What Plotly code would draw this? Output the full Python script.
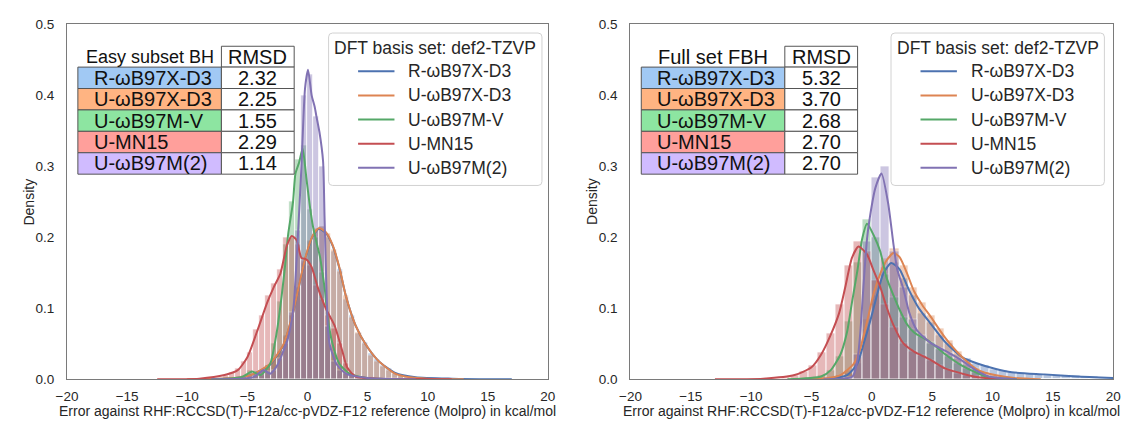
import plotly.graph_objects as go

# ---------------- data ----------------
methods = ["R-ωB97X-D3", "U-ωB97X-D3", "U-ωB97M-V", "U-MN15", "U-ωB97M(2)"]
line_colors = ["#4C72B0", "#DD8452", "#55A868", "#C44E52", "#8172B3"]
cell_colors = ["#A1C9F4", "#FFB482", "#8DE5A1", "#FF9F9B", "#D0BBFF"]

easy_title = "Easy subset BH"
full_title = "Full set FBH"
rmsd_header = "RMSD"
easy_rmsd = ["2.32", "2.25", "1.55", "2.29", "1.14"]
full_rmsd = ["5.32", "3.70", "2.68", "2.70", "2.70"]
legend_title = "DFT basis set: def2-TZVP"
x_title = "Error against RHF:RCCSD(T)-F12a/cc-pVDZ-F12 reference (Molpro) in kcal/mol"
y_title = "Density"
x_ticks = [-20, -15, -10, -5, 0, 5, 10, 15, 20]
y_ticks = [0.0, 0.1, 0.2, 0.3, 0.4, 0.5]

# --- KDE curves, easy subset (left panel)
easy_R_wB97XD3_x = [-9, -6, -4.7, -3.1, -2.0, -1.2, -0.6, -0.1, 0.45, 0.95, 1.55, 2.1, 2.65, 3.2, 4.0, 4.85, 5.9, 7.3, 9, 12, 17]
easy_R_wB97XD3_y = [0, 0.002, 0.006, 0.021, 0.048, 0.093, 0.139, 0.175, 0.202, 0.212, 0.206, 0.188, 0.157, 0.117, 0.076, 0.049, 0.026, 0.009, 0.003, 0.001, 0]
easy_U_wB97XD3_x = [-10, -6, -4.7, -3.1, -2.0, -1.2, -0.6, -0.1, 0.45, 0.95, 1.55, 2.1, 2.65, 3.2, 4.0, 4.85, 5.9, 7.3, 8.5, 10, 13]
easy_U_wB97XD3_y = [0, 0.002, 0.006, 0.022, 0.049, 0.094, 0.140, 0.176, 0.203, 0.213, 0.207, 0.189, 0.158, 0.117, 0.076, 0.049, 0.026, 0.008, 0.003, 0.001, 0]
easy_U_wB97MV_x = [-8, -5.5, -4.6, -3.9, -3.1, -2.55, -2.15, -1.85, -1.6, -1.2, -1.0, -0.7, -0.4, -0.1, 0.2, 0.45, 0.85, 1.05, 1.3, 1.45, 1.7, 2.1, 2.65, 3.5, 5, 8]
easy_U_wB97MV_y = [0, 0.003, 0.011, 0.006, 0.022, 0.067, 0.117, 0.162, 0.205, 0.25, 0.29, 0.305, 0.325, 0.285, 0.244, 0.216, 0.186, 0.172, 0.144, 0.126, 0.085, 0.049, 0.022, 0.008, 0.002, 0]
easy_U_MN15_x = [-12.5, -9, -6.9, -5.8, -5.0, -4.2, -3.35, -2.8, -2.25, -1.7, -1.3, -0.9, -0.5, -0.1, 0.35, 0.85, 1.55, 2.25, 2.9, 3.3, 4.0, 6, 9, 12]
easy_U_MN15_y = [0, 0.001, 0.006, 0.013, 0.031, 0.067, 0.108, 0.130, 0.149, 0.189, 0.202, 0.196, 0.171, 0.169, 0.158, 0.130, 0.099, 0.076, 0.040, 0.017, 0.004, 0.001, 0.0005, 0]
easy_U_wB97M2_x = [-8, -4.5, -3.65, -3.1, -2.5, -2.0, -1.7, -1.4, -1.15, -1.0, -0.8, -0.5, -0.2, 0.05, 0.35, 0.6, 0.75, 1.0, 1.3, 1.42, 1.56, 1.7, 1.85, 2.4, 3.2, 5, 9]
easy_U_wB97M2_y = [0, 0.003, 0.013, 0.008, 0.02, 0.040, 0.053, 0.075, 0.103, 0.14, 0.2, 0.30, 0.41, 0.436, 0.40, 0.384, 0.37, 0.348, 0.307, 0.23, 0.14, 0.072, 0.049, 0.022, 0.008, 0.002, 0]

# --- KDE curves, full set (right panel)
full_R_wB97XD3_x = [-4, -2.05, -1.2, -0.7, -0.15, 0.4, 0.95, 1.6, 2.3, 3.1, 3.9, 4.8, 6.1, 7.5, 8.8, 10.2, 11.6, 14.3, 17, 20]
full_R_wB97XD3_y = [0, 0.006, 0.022, 0.049, 0.081, 0.117, 0.149, 0.164, 0.155, 0.125, 0.10, 0.08, 0.052, 0.031, 0.022, 0.015, 0.010, 0.007, 0.004, 0.002]
full_U_wB97XD3_x = [-6, -3.6, -2.6, -1.5, -0.95, -0.4, 0.15, 0.7, 1.2, 1.8, 2.3, 2.9, 3.5, 4.2, 4.8, 6.1, 7.5, 8.8, 10.2, 11.8, 14]
full_U_wB97XD3_y = [0, 0.002, 0.006, 0.022, 0.044, 0.081, 0.121, 0.149, 0.167, 0.178, 0.172, 0.150, 0.124, 0.104, 0.090, 0.058, 0.031, 0.013, 0.006, 0.002, 0]
full_U_wB97MV_x = [-7, -4.2, -3.4, -2.6, -2.05, -1.65, -1.2, -0.8, -0.4, 0.15, 0.7, 1.2, 1.8, 2.3, 2.9, 3.5, 4.8, 6.1, 7.5, 8.6, 9.7, 12]
full_U_wB97MV_y = [0, 0.004, 0.013, 0.035, 0.067, 0.108, 0.153, 0.198, 0.219, 0.203, 0.180, 0.144, 0.118, 0.098, 0.078, 0.066, 0.053, 0.035, 0.019, 0.010, 0.003, 0]
full_U_MN15_x = [-13, -9, -6.4, -5.0, -4.2, -3.4, -2.7, -2.2, -1.65, -1.1, -0.4, 0.15, 0.7, 1.2, 1.8, 2.6, 3.5, 4.8, 6.1, 7.5, 8.8, 11]
full_U_MN15_y = [0, 0.001, 0.006, 0.017, 0.035, 0.063, 0.094, 0.130, 0.171, 0.187, 0.176, 0.153, 0.130, 0.103, 0.076, 0.051, 0.039, 0.028, 0.015, 0.008, 0.003, 0]
full_U_wB97M2_x = [-4, -1.6, -1.2, -0.95, -0.7, -0.4, -0.15, 0.3, 0.8, 1.35, 1.8, 2.1, 2.6, 3.1, 3.7, 4.8, 6.1, 7.5, 8.6, 9.7, 12]
full_U_wB97M2_y = [0, 0.004, 0.026, 0.067, 0.130, 0.198, 0.230, 0.270, 0.290, 0.248, 0.189, 0.155, 0.128, 0.094, 0.070, 0.052, 0.040, 0.026, 0.013, 0.004, 0]

# --- histogram bars, easy subset (bin width 0.5)
easy_bin_centers = [-6.75, -6.25, -5.75, -5.25, -4.75, -4.25, -3.75, -3.25, -2.75, -2.25, -1.75, -1.25, -0.75, -0.25,
                    0.25, 0.75, 1.25, 1.75, 2.25, 2.75, 3.25, 3.75, 4.25, 4.75, 5.25, 5.75, 6.25, 6.75, 7.25, 7.75, 8.25, 8.75]
easy_hist_R_wB97XD3 = [0, 0.002, 0.003, 0.004, 0.007, 0.008, 0.012, 0.02, 0.03, 0.038, 0.062, 0.09, 0.13, 0.165, 0.195, 0.21,
                       0.215, 0.2, 0.18, 0.155, 0.112, 0.09, 0.065, 0.052, 0.036, 0.028, 0.019, 0.015, 0.008, 0.006, 0.004, 0.002]
easy_hist_U_wB97XD3 = [0, 0.001, 0.003, 0.004, 0.006, 0.009, 0.013, 0.019, 0.029, 0.04, 0.06, 0.09, 0.128, 0.163, 0.196, 0.212,
                       0.216, 0.205, 0.183, 0.152, 0.118, 0.088, 0.066, 0.05, 0.034, 0.026, 0.018, 0.012, 0.008, 0.005, 0.003, 0.002]
easy_hist_U_wB97MV = [0, 0, 0.002, 0.006, 0.012, 0.008, 0.006, 0.02, 0.05, 0.11, 0.19, 0.25, 0.31, 0.33, 0.24, 0.2,
                      0.15, 0.075, 0.038, 0.018, 0.01, 0.006, 0.004, 0.003, 0.002, 0.001, 0, 0, 0, 0, 0, 0]
easy_hist_U_MN15 = [0.006, 0.01, 0.015, 0.025, 0.038, 0.07, 0.09, 0.118, 0.135, 0.155, 0.2, 0.2, 0.19, 0.168, 0.16, 0.133,
                    0.112, 0.09, 0.072, 0.05, 0.022, 0.008, 0.004, 0.003, 0.002, 0.002, 0.001, 0.001, 0.001, 0, 0, 0]
easy_hist_U_wB97M2 = [0, 0.001, 0.002, 0.003, 0.004, 0.006, 0.012, 0.011, 0.013, 0.03, 0.05, 0.095, 0.21, 0.40, 0.43, 0.37,
                      0.30, 0.075, 0.025, 0.013, 0.008, 0.005, 0.003, 0.002, 0.001, 0, 0, 0, 0, 0, 0, 0]

# --- histogram bars, full set (bin width 0.75)
full_bin_centers = [-8.625, -7.875, -7.125, -6.375, -5.625, -4.875, -4.125, -3.375, -2.625, -1.875, -1.125, -0.375,
                    0.375, 1.125, 1.875, 2.625, 3.375, 4.125, 4.875, 5.625, 6.375, 7.125, 7.875, 8.625, 9.375, 10.125,
                    10.875, 11.625, 12.375, 13.125, 13.875, 14.625, 15.375, 16.125, 16.875, 17.625, 18.375, 19.125, 19.875]
full_hist_R_wB97XD3 = [0, 0, 0, 0, 0, 0, 0.001, 0.002, 0.004, 0.008, 0.022, 0.07, 0.118, 0.158, 0.165, 0.142, 0.118,
                       0.093, 0.08, 0.062, 0.05, 0.035, 0.03, 0.022, 0.02, 0.014, 0.013, 0.01, 0.009, 0.008, 0.007,
                       0.007, 0.006, 0.005, 0.005, 0.004, 0.004, 0.003, 0.002]
full_hist_U_wB97XD3 = [0, 0, 0, 0, 0, 0, 0.001, 0.002, 0.006, 0.012, 0.035, 0.085, 0.14, 0.17, 0.185, 0.16, 0.13,
                       0.108, 0.09, 0.072, 0.055, 0.04, 0.025, 0.016, 0.01, 0.006, 0.004, 0.002, 0.001, 0, 0, 0, 0, 0,
                       0, 0, 0, 0, 0]
full_hist_U_wB97MV = [0, 0, 0, 0, 0.001, 0.002, 0.005, 0.013, 0.033, 0.082, 0.165, 0.225, 0.2, 0.148, 0.115, 0.088,
                      0.07, 0.06, 0.052, 0.042, 0.032, 0.022, 0.015, 0.01, 0.005, 0.002, 0.001, 0, 0, 0, 0, 0, 0, 0,
                      0, 0, 0, 0, 0]
full_hist_U_MN15 = [0.001, 0.002, 0.003, 0.006, 0.011, 0.02, 0.038, 0.065, 0.105, 0.16, 0.195, 0.18, 0.14, 0.105,
                    0.073, 0.05, 0.04, 0.034, 0.027, 0.02, 0.014, 0.009, 0.006, 0.004, 0.002, 0.001, 0, 0, 0, 0, 0, 0,
                    0, 0, 0, 0, 0, 0, 0]
full_hist_U_wB97M2 = [0, 0, 0, 0, 0, 0, 0, 0, 0.001, 0.003, 0.035, 0.195, 0.285, 0.30, 0.18, 0.13, 0.085, 0.062, 0.05,
                      0.044, 0.037, 0.03, 0.021, 0.013, 0.006, 0.002, 0.001, 0, 0, 0, 0, 0, 0, 0, 0, 0, 0, 0, 0]

easy_kde = [(easy_R_wB97XD3_x, easy_R_wB97XD3_y), (easy_U_wB97XD3_x, easy_U_wB97XD3_y),
            (easy_U_wB97MV_x, easy_U_wB97MV_y), (easy_U_MN15_x, easy_U_MN15_y), (easy_U_wB97M2_x, easy_U_wB97M2_y)]
full_kde = [(full_R_wB97XD3_x, full_R_wB97XD3_y), (full_U_wB97XD3_x, full_U_wB97XD3_y),
            (full_U_wB97MV_x, full_U_wB97MV_y), (full_U_MN15_x, full_U_MN15_y), (full_U_wB97M2_x, full_U_wB97M2_y)]
easy_hist = [easy_hist_R_wB97XD3, easy_hist_U_wB97XD3, easy_hist_U_wB97MV, easy_hist_U_MN15, easy_hist_U_wB97M2]
full_hist = [full_hist_R_wB97XD3, full_hist_U_wB97XD3, full_hist_U_wB97MV, full_hist_U_MN15, full_hist_U_wB97M2]

# ---------------- layout constants (pixels) ----------------
W, H = 1135, 424
FONT = "Liberation Sans, Arial, Helvetica, sans-serif"
TXT = "#262626"
AX_TOP, AX_BOT = 18, 386
LEFT_AX = (57, 546)
RIGHT_AX = (630, 1121)


def px(x):
    return x / W


def py(y):
    return 1 - y / H


fig = go.Figure()


def add_panel(xa, ya, kde, hist, centers, bw):
    for i in range(5):
        fig.add_trace(go.Bar(
            x=centers, y=hist[i], width=bw, xaxis=xa, yaxis=ya,
            marker=dict(color=line_colors[i], line=dict(color="white", width=0.8)),
            opacity=0.4, showlegend=False, hoverinfo="skip"))
        fig.add_trace(go.Scatter(
            x=kde[i][0], y=kde[i][1], mode="lines", name=methods[i], xaxis=xa, yaxis=ya,
            line=dict(color=line_colors[i], width=2, shape="spline", smoothing=0.6),
            showlegend=False))


add_panel("x", "y", easy_kde, easy_hist, easy_bin_centers, 0.5)
add_panel("x2", "y2", full_kde, full_hist, full_bin_centers, 0.75)

axis_common = dict(showgrid=False, zeroline=False, showline=True, mirror=True,
                   linecolor="#7a7a7a", linewidth=1.3, ticks="",
                   tickfont=dict(family=FONT, size=13.5, color=TXT))
xcommon = dict(axis_common, range=[-20, 20], tickvals=x_ticks, ticklabelstandoff=4)
ycommon = dict(axis_common, range=[0, 0.5], tickvals=y_ticks, tickformat=".1f", ticklabelstandoff=9)

fig.update_layout(
    width=W, height=H, margin=dict(l=0, r=0, t=0, b=0),
    paper_bgcolor="white", plot_bgcolor="white", barmode="overlay", bargap=0,
    showlegend=False,
    xaxis=dict(xcommon, domain=[px(LEFT_AX[0]), px(LEFT_AX[1])], anchor="y"),
    yaxis=dict(ycommon, domain=[py(AX_BOT), py(AX_TOP)], anchor="x"),
    xaxis2=dict(xcommon, domain=[px(RIGHT_AX[0]), px(RIGHT_AX[1])], anchor="y2"),
    yaxis2=dict(ycommon, domain=[py(AX_BOT), py(AX_TOP)], anchor="x2"),
)

shapes = []
annotations = []

# axis titles
for ax in (LEFT_AX, RIGHT_AX):
    annotations.append(dict(text=x_title, x=px((ax[0] + ax[1]) / 2), y=py(418.5), xref="paper", yref="paper",
                            showarrow=False, font=dict(family=FONT, size=14, color=TXT),
                            xanchor="center", yanchor="middle", borderpad=0))
    annotations.append(dict(text=y_title, x=px(ax[0] - 39), y=py((AX_TOP + AX_BOT) / 2), xref="paper", yref="paper",
                            showarrow=False, textangle=-90, font=dict(family=FONT, size=14, color=TXT),
                            xanchor="center", yanchor="middle", borderpad=0))


# tables
def add_table(ax_left, title, title_size, values):
    c0 = ax_left + 11
    c1 = c0 + 146
    c2 = c1 + 74
    rows = [40.7, 62.3, 84.5, 106.7, 128.9, 151.1, 173.3]
    edge = "#555555"
    shapes.append(dict(type="rect", xref="paper", yref="paper", x0=px(c1), x1=px(c2), y0=py(rows[0]), y1=py(rows[1]),
                       fillcolor="white", line=dict(color=edge, width=1), layer="above"))
    annotations.append(dict(text=title, x=px((c0 + c1) / 2), y=py((rows[0] + rows[1]) / 2), xref="paper",
                            yref="paper", showarrow=False, font=dict(family=FONT, size=title_size, color="#111111"),
                            xanchor="center", yanchor="middle", borderpad=0))
    annotations.append(dict(text=rmsd_header, x=px((c1 + c2) / 2), y=py((rows[0] + rows[1]) / 2), xref="paper",
                            yref="paper", showarrow=False, font=dict(family=FONT, size=20, color="#111111"),
                            xanchor="center", yanchor="middle", borderpad=0))
    for i in range(5):
        ya, yb = rows[i + 1], rows[i + 2]
        shapes.append(dict(type="rect", xref="paper", yref="paper", x0=px(c0), x1=px(c1), y0=py(ya), y1=py(yb),
                           fillcolor=cell_colors[i], line=dict(color=edge, width=1), layer="above"))
        shapes.append(dict(type="rect", xref="paper", yref="paper", x0=px(c1), x1=px(c2), y0=py(ya), y1=py(yb),
                           fillcolor="white", line=dict(color=edge, width=1), layer="above"))
        annotations.append(dict(text=methods[i], x=px(c0 + 15), y=py((ya + yb) / 2), xref="paper", yref="paper",
                                showarrow=False, font=dict(family=FONT, size=20, color="#111111"),
                                xanchor="left", yanchor="middle", borderpad=0))
        annotations.append(dict(text=values[i], x=px((c1 + c2) / 2), y=py((ya + yb) / 2), xref="paper",
                                yref="paper", showarrow=False, font=dict(family=FONT, size=20, color="#111111"),
                                xanchor="center", yanchor="middle", borderpad=0))


add_table(LEFT_AX[0], easy_title, 18, easy_rmsd)
add_table(RIGHT_AX[0], full_title, 20, full_rmsd)


# legends (drawn as boxes with line samples)
def add_legend(box_left):
    x0, x1 = box_left, box_left + 217
    y0, y1 = 27, 185
    r = 4
    path = (f"M {px(x0 + r)},{py(y0)} L {px(x1 - r)},{py(y0)} Q {px(x1)},{py(y0)} {px(x1)},{py(y0 + r)} "
            f"L {px(x1)},{py(y1 - r)} Q {px(x1)},{py(y1)} {px(x1 - r)},{py(y1)} "
            f"L {px(x0 + r)},{py(y1)} Q {px(x0)},{py(y1)} {px(x0)},{py(y1 - r)} "
            f"L {px(x0)},{py(y0 + r)} Q {px(x0)},{py(y0)} {px(x0 + r)},{py(y0)} Z")
    shapes.append(dict(type="path", path=path, xref="paper", yref="paper", fillcolor="rgba(255,255,255,0.8)",
                       line=dict(color="#d2d2d2", width=1), layer="above"))
    annotations.append(dict(text=legend_title, x=px((x0 + x1) / 2), y=py(42), xref="paper", yref="paper",
                            showarrow=False, font=dict(family=FONT, size=17.5, color=TXT),
                            xanchor="center", yanchor="middle", borderpad=0))
    for i in range(5):
        yy = 66.7 + 25 * i
        shapes.append(dict(type="line", xref="paper", yref="paper", x0=px(x0 + 30), x1=px(x0 + 67),
                           y0=py(yy), y1=py(yy), line=dict(color=line_colors[i], width=2), layer="above"))
        annotations.append(dict(text=methods[i], x=px(x0 + 80), y=py(yy), xref="paper", yref="paper",
                                showarrow=False, font=dict(family=FONT, size=17.5, color=TXT),
                                xanchor="left", yanchor="middle", borderpad=0))


add_legend(323)
add_legend(895)

fig.update_layout(shapes=shapes, annotations=annotations)
fig.write_html("out.html")
